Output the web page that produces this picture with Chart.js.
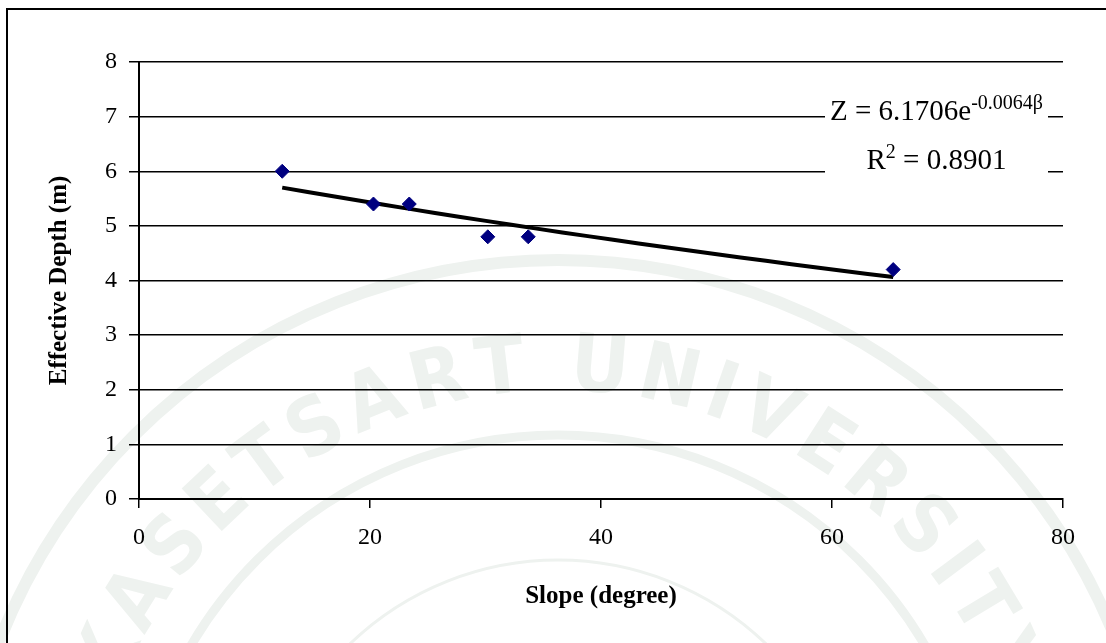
<!DOCTYPE html>
<html>
<head>
<meta charset="utf-8">
<script src="https://cdn.jsdelivr.net/npm/chart.js@4.4.1/dist/chart.umd.min.js"></script>
<style>
  html, body { margin: 0; padding: 0; background: #ffffff; }
  #wrap { width: 1106px; height: 643px; }
</style>
</head>
<body>
<div id="wrap"><canvas id="chart" width="1106" height="643"></canvas></div>
<script>
// Measured slope vs. effective soil depth
const slopeDeg = [12.4, 20.3, 23.4, 30.2, 33.7, 65.3];
const effectiveDepth = [6.0, 5.4, 5.4, 4.8, 4.8, 4.2];

// Exponential trendline Z = a * e^(b * beta) and its fit quality
const trendA = 6.1706;
const trendB = -0.0064;
const rSquared = 0.8901;

// Axis ranges and tick steps
const xRange = [0, 80];
const xStep = 20;
const yRange = [0, 8];
const yStep = 1;

const scatterPoints = slopeDeg.map((x, i) => ({ x: x, y: effectiveDepth[i] }));

// Trendline evaluated over the span of the measured slopes
const trendPoints = [];
(function () {
  const lo = Math.min(...slopeDeg), hi = Math.max(...slopeDeg);
  const n = 24;
  for (let i = 0; i <= n; i++) {
    const b = lo + (hi - lo) * i / n;
    trendPoints.push({ x: b, y: trendA * Math.exp(trendB * b) });
  }
})();

const serif = '"Liberation Serif", "Times New Roman", serif';

// Faint university seal printed behind the chart
const sealPlugin = {
  id: 'seal',
  beforeDraw(chart) {
    const c = chart.ctx;
    const cx = 558, cy = 860;
    const tint = '#eef2ef';
    c.save();
    c.strokeStyle = tint;
    c.lineWidth = 12;
    c.beginPath(); c.arc(cx, cy, 600, 0, Math.PI * 2); c.stroke();
    c.lineWidth = 9;
    c.beginPath(); c.arc(cx, cy, 425, 0, Math.PI * 2); c.stroke();
    c.lineWidth = 3;
    c.beginPath(); c.arc(cx, cy, 300, 0, Math.PI * 2); c.stroke();

    const word = 'KASETSART UNIVERSITY';
    c.fillStyle = tint;
    c.font = 'bold 80px "DejaVu Sans Condensed", "DejaVu Sans", sans-serif';
    c.textAlign = 'center';
    c.textBaseline = 'alphabetic';
    const r = 470;
    const gap = 8;
    const widths = [...word].map(ch => c.measureText(ch).width + gap);
    const total = widths.reduce((s, w) => s + w, 0);
    let ang = -total / 2 / r;
    [...word].forEach((ch, i) => {
      const mid = ang + widths[i] / 2 / r;
      c.save();
      c.translate(cx + r * Math.sin(mid), cy - r * Math.cos(mid));
      c.rotate(mid);
      c.fillText(ch, 0, 0);
      c.restore();
      ang += widths[i] / r;
    });
    c.restore();
  }
};

// Frame line and the trendline equation box
const decorPlugin = {
  id: 'decor',
  afterDraw(chart) {
    const c = chart.ctx;
    const area = chart.chartArea;
    c.save();

    // outer frame (top and left edges)
    c.strokeStyle = '#000';
    c.lineWidth = 2;
    c.beginPath();
    c.moveTo(1106, 9);
    c.lineTo(7, 9);
    c.lineTo(7, 643);
    c.stroke();

    // equation label
    const boxL = area.right - 238, boxR = area.right - 15;
    c.fillStyle = '#ffffff';
    c.fillRect(boxL, 94, boxR - boxL, 88);

    const cx = (boxL + boxR) / 2;
    const big = '29px ' + serif;
    const small = '20px ' + serif;
    c.fillStyle = '#000';
    c.textAlign = 'left';
    c.textBaseline = 'alphabetic';

    const line1 = 'Z = ' + trendA.toFixed(4) + 'e';
    const sup1 = trendB.toFixed(4) + '\u03B2';
    c.font = big; const w1 = c.measureText(line1).width;
    c.font = small; const ws1 = c.measureText(sup1).width;
    let x = cx - (w1 + ws1) / 2;
    c.font = big; c.fillText(line1, x, 120);
    c.font = small; c.fillText(sup1, x + w1, 109);

    const partA = 'R', supB = '2', partC = ' = ' + rSquared.toFixed(4);
    c.font = big; const wa = c.measureText(partA).width; const wc = c.measureText(partC).width;
    c.font = small; const wb = c.measureText(supB).width;
    x = cx - (wa + wb + wc) / 2;
    c.font = big; c.fillText(partA, x, 169);
    c.font = small; c.fillText(supB, x + wa, 158);
    c.font = big; c.fillText(partC, x + wa + wb, 169);

    c.restore();
  }
};

new Chart(document.getElementById('chart'), {
  type: 'scatter',
  data: {
    datasets: [
      {
        label: 'Trendline',
        type: 'line',
        data: trendPoints,
        borderColor: '#000000',
        borderWidth: 4,
        pointRadius: 0,
        fill: false,
        tension: 0,
        order: 2
      },
      {
        label: 'Effective depth',
        data: scatterPoints,
        pointStyle: 'rectRot',
        pointRadius: 7,
        pointHoverRadius: 7,
        backgroundColor: '#000080',
        borderColor: '#000080',
        borderWidth: 1,
        order: 1
      }
    ]
  },
  options: {
    responsive: false,
    animation: false,
    devicePixelRatio: 1,
    layout: { padding: { top: 62, right: 43, left: 0, bottom: 0 } },
    plugins: {
      legend: { display: false },
      tooltip: { enabled: false }
    },
    scales: {
      x: {
        type: 'linear',
        min: xRange[0],
        max: xRange[1],
        afterFit(scale) { scale.height = 144; },
        ticks: {
          stepSize: xStep,
          color: '#000',
          padding: 15,
          font: { family: serif, size: 24 }
        },
        grid: {
          drawOnChartArea: false,
          drawTicks: true,
          tickLength: 9,
          color: '#000',
          lineWidth: 1.5
        },
        border: { display: true, color: '#000', width: 2 },
        title: {
          display: true,
          text: 'Slope (degree)',
          color: '#000',
          font: { family: serif, size: 25, weight: 'bold' },
          padding: { top: 0, bottom: 31 }
        }
      },
      y: {
        type: 'linear',
        min: yRange[0],
        max: yRange[1],
        afterFit(scale) { scale.width = 139; },
        ticks: {
          stepSize: yStep,
          color: '#000',
          padding: 12,
          font: { family: serif, size: 24 }
        },
        grid: {
          drawOnChartArea: true,
          drawTicks: true,
          tickLength: 10,
          color: '#000',
          lineWidth: 1.5
        },
        border: { display: true, color: '#000', width: 2 },
        title: {
          display: true,
          text: 'Effective Depth (m)',
          color: '#000',
          font: { family: serif, size: 25, weight: 'bold' },
          padding: { top: 45, bottom: 0 }
        }
      }
    }
  },
  plugins: [sealPlugin, decorPlugin]
});
</script>
</body>
</html>
